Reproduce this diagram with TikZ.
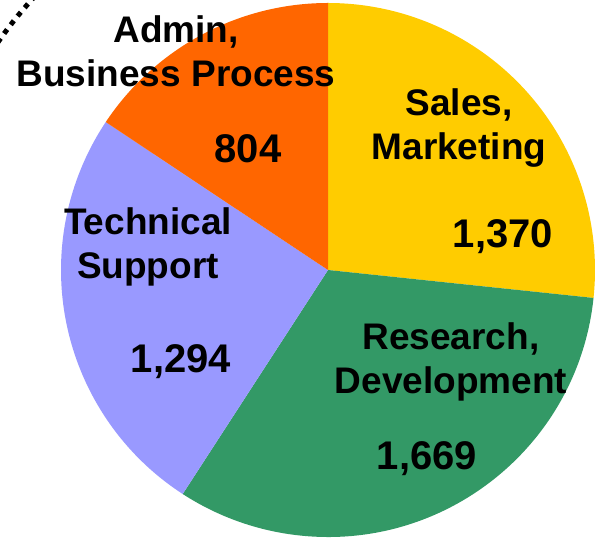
\documentclass[tikz,border=0pt]{standalone}
\usepackage{fontspec}
\setmainfont{Liberation Sans}
\usetikzlibrary{calc}
\definecolor{salescol}{HTML}{FFCC00}
\definecolor{rescol}{HTML}{339966}
\definecolor{techcol}{HTML}{9999FF}
\definecolor{admincol}{HTML}{FF6600}
\tikzset{
  slicelbl/.style={anchor=base, inner sep=0pt, font=\fontsize{37}{44}\selectfont\bfseries},
  slicenum/.style={anchor=base, inner sep=0pt, font=\fontsize{40}{48}\selectfont\bfseries},
  dotring/.style={line width=5pt, dash pattern=on 5pt off 6pt, black},
}
\begin{document}
\begin{tikzpicture}[x=1pt,y=1pt]
\useasboundingbox (0,0) rectangle (595,548);
\clip (0,0) rectangle (595,548);
\coordinate (c) at (328,278);
\def\R{267}
\fill[salescol] (c) -- ++(90:\R) arc[start angle=90, end angle=-6.01, radius=\R] -- cycle;
\fill[rescol] (c) -- ++(-6.01:\R) arc[start angle=-6.01, end angle=-122.97, radius=\R] -- cycle;
\fill[techcol] (c) -- ++(-122.97:\R) arc[start angle=-122.97, end angle=-213.65, radius=\R] -- cycle;
\fill[admincol] (c) -- ++(-213.65:\R) arc[start angle=-213.65, end angle=-270, radius=\R] -- cycle;
\draw[dotring] ($(c)+(118:401)$) arc[start angle=118, end angle=152, radius=401];
\node[slicelbl] (admin) at (176,505) {\begin{tabular}[t]{@{}c@{}}Admin,\\Business Process\end{tabular}};
\node[slicenum] (adminv) at (248,385) {804};
\node[slicelbl] (sales) at (459,432) {\begin{tabular}[t]{@{}c@{}}Sales,\\Marketing\end{tabular}};
\node[slicenum] (salesv) at (503,300) {1,370};
\node[slicelbl] (res) at (451,198) {\begin{tabular}[t]{@{}c@{}}Research,\\Development\end{tabular}};
\node[slicenum] (resv) at (427,78) {1,669};
\node[slicelbl] (tech) at (148,313) {\begin{tabular}[t]{@{}c@{}}Technical\\Support\end{tabular}};
\node[slicenum] (techv) at (181,175) {1,294};
\end{tikzpicture}
\end{document}
